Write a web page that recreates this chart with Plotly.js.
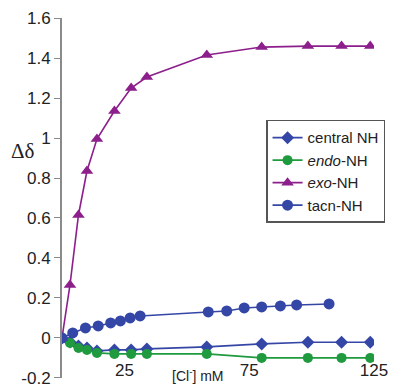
<!DOCTYPE html>
<html>
<head>
<meta charset="utf-8">
<script src="https://cdn.plot.ly/plotly-3.0.1.min.js"></script>
<style>html,body{margin:0;padding:0;background:#fff;}#chart{width:394px;height:387px;}</style>
</head>
<body>
<div id="chart"></div>
<script>
// Chloride concentration (mM) for central/endo/exo titrations
var xMain = [0, 3.2, 6.6, 10, 14, 21, 27.7, 34, 58, 80, 98.5, 112, 123.5];
var centralNH = [0, -0.02, -0.04, -0.05, -0.065, -0.06, -0.06, -0.055, -0.045, -0.03, -0.022, -0.022, -0.022];
var endoNH = [0, -0.025, -0.05, -0.06, -0.075, -0.08, -0.08, -0.08, -0.08, -0.1, -0.1, -0.1, -0.1];
var exoNH = [0, 0.265, 0.615, 0.835, 0.995, 1.135, 1.25, 1.305, 1.415, 1.455, 1.46, 1.46, 1.46];
// tacn-NH titration
var xTacn = [0, 4.3, 9.4, 14.5, 19.5, 23.4, 27.3, 31.3, 58.6, 66, 73, 80, 87.5, 94, 107];
var tacnNH = [0, 0.025, 0.05, 0.06, 0.075, 0.085, 0.1, 0.11, 0.13, 0.135, 0.15, 0.155, 0.16, 0.165, 0.17];
var xTickLabels = [25, 75, 125];
var xTicks = [0, 25, 50, 75, 100, 125];
var yTicks = [-0.2, 0, 0.2, 0.4, 0.6, 0.8, 1, 1.2, 1.4, 1.6];
var yTickText = ['-0.2', '0', '0.2', '0.4', '0.6', '0.8', '1', '1.2', '1.4', '1.6'];

var blue = '#3547a6', green = '#1f9a3e', purple = '#8c1f8c';

var traces = [
  {x: xMain, y: centralNH, name: 'central NH', mode: 'lines+markers',
   line: {color: blue, width: 1.6}, marker: {symbol: 'diamond', size: 10, color: blue}},
  {x: xMain, y: endoNH, name: '<i>endo</i>-NH', mode: 'lines+markers',
   line: {color: green, width: 1.6}, marker: {symbol: 'circle', size: 10, color: green}},
  {x: xMain, y: exoNH, name: '<i>exo</i>-NH', mode: 'lines+markers',
   line: {color: purple, width: 1.6}, marker: {symbol: 'triangle-up', size: 11, color: purple}},
  {x: xTacn, y: tacnNH, name: 'tacn-NH', mode: 'lines+markers',
   line: {color: blue, width: 1.6}, marker: {symbol: 'circle', size: 11, color: blue}}
];

var font = 'Arial, "Liberation Sans", sans-serif';
var layout = {
  width: 394, height: 387,
  margin: {l: 62, r: 11, t: 18, b: 9},
  paper_bgcolor: '#fff', plot_bgcolor: '#fff',
  showlegend: true,
  font: {family: font, color: '#222'},
  xaxis: {
    range: [0, 125], showgrid: false, zeroline: false, showline: false,
    tickmode: 'array', tickvals: xTickLabels, ticktext: xTickLabels.map(String),
    ticks: '', tickfont: {size: 17, family: font, color: '#222'},
    ticklabeloverflow: 'allow',
    anchor: 'free', position: 0.055
  },
  xaxis2: {
    range: [0, 125], overlaying: 'x', matches: 'x', anchor: 'free', position: 0.1111,
    showgrid: false, zeroline: false, showline: true, linecolor: '#8a8a8a', linewidth: 1.5,
    tickmode: 'array', tickvals: xTicks, ticks: 'outside', ticklen: 5, tickcolor: '#8a8a8a',
    showticklabels: false
  },
  yaxis: {
    range: [-0.2005, 1.6005], showgrid: false, zeroline: false, showline: true,
    linecolor: '#8a8a8a', linewidth: 2,
    tickmode: 'array', tickvals: yTicks, ticktext: yTickText,
    ticks: 'outside', ticklen: 6, tickcolor: '#8a8a8a',
    ticklabeloverflow: 'allow',
    tickfont: {size: 17, family: font, color: '#222'}
  },
  legend: {
    x: 0.654, y: 0.717, xanchor: 'left', yanchor: 'top',
    bordercolor: '#555', borderwidth: 1.5, bgcolor: '#fff',
    font: {size: 15, family: font, color: '#222'}
  },
  annotations: [
    {text: 'Δδ', xref: 'paper', yref: 'paper', x: -0.125, y: 0.63,
     xanchor: 'center', yanchor: 'middle', showarrow: false,
     font: {size: 21, family: '"Liberation Serif", "DejaVu Serif", serif', color: '#222'}},
    {text: '[Cl<sup>-</sup>] mM', xref: 'paper', yref: 'paper', x: 0.436, y: -0.022,
     xanchor: 'center', yanchor: 'bottom', showarrow: false,
     font: {size: 14, family: font, color: '#222'}}
  ]
};

Plotly.newPlot('chart', traces, layout, {displayModeBar: false, staticPlot: true});
</script>
</body>
</html>
